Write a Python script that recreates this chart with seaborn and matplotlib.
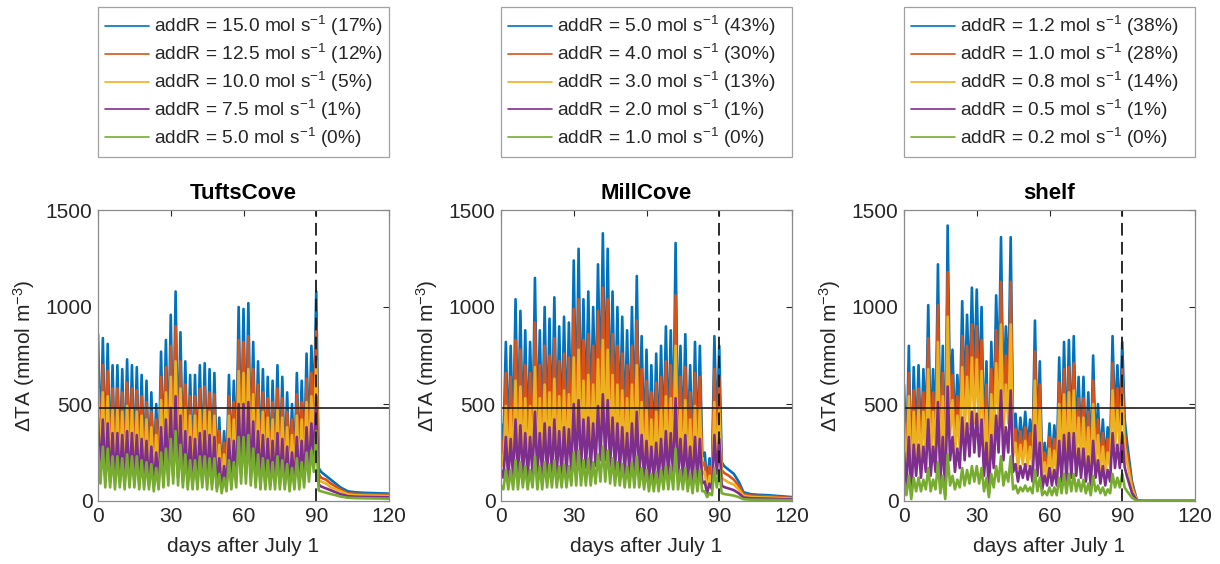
import matplotlib
matplotlib.use("Agg")
import matplotlib.pyplot as plt
import seaborn as sns

# time axis: daily values over the release period, then a few points of the decay
days = list(range(0, 91)) + [91, 92, 94, 96, 98, 100, 103, 106, 110, 115, 120]

# ---- TuftsCove (even days = spike tops, odd days = troughs) ----
tufts_blue = [860, 260, 840, 220, 810, 200, 700, 190, 700, 200, 680, 190, 730, 200, 700, 200, 690, 180, 650, 190, 620, 170, 560, 160, 500, 170, 770, 220, 830, 250, 960, 260, 1080, 240, 870, 210, 720, 180, 650, 170, 650, 180, 700, 200, 710, 190, 680, 180, 660, 140, 430, 120, 360, 150, 650, 180, 620, 220, 1000, 280, 990, 280, 1020, 240, 820, 200, 720, 190, 680, 180, 640, 170, 620, 190, 700, 180, 640, 170, 560, 160, 500, 180, 660, 190, 620, 220, 760, 300, 800, 450, 1080,
              170, 150, 130, 110, 90, 70, 50, 45, 42, 40, 38]
tufts_orange = [710, 220, 700, 180, 670, 170, 580, 160, 580, 170, 560, 160, 610, 170, 580, 170, 570, 150, 540, 160, 510, 140, 460, 130, 420, 140, 640, 180, 690, 210, 800, 220, 900, 200, 720, 170, 600, 150, 540, 140, 540, 150, 580, 170, 590, 160, 560, 150, 550, 120, 360, 100, 300, 120, 540, 150, 510, 180, 830, 230, 820, 230, 850, 200, 680, 170, 600, 160, 560, 150, 530, 140, 510, 160, 580, 150, 530, 140, 460, 130, 420, 150, 550, 160, 510, 180, 630, 250, 660, 370, 900,
                140, 120, 110, 90, 75, 60, 40, 37, 35, 33, 32]
tufts_yellow = [580, 170, 560, 150, 540, 130, 470, 130, 470, 130, 460, 130, 490, 130, 470, 130, 460, 120, 440, 130, 420, 110, 380, 110, 340, 110, 520, 150, 560, 170, 640, 170, 720, 160, 580, 140, 480, 120, 440, 110, 440, 120, 470, 130, 480, 130, 460, 120, 440, 90, 290, 80, 240, 100, 440, 120, 420, 150, 670, 190, 660, 190, 680, 160, 550, 130, 480, 130, 460, 120, 430, 110, 420, 130, 470, 120, 430, 110, 380, 110, 340, 120, 440, 130, 420, 150, 510, 200, 540, 300, 720,
                110, 100, 90, 70, 60, 50, 34, 30, 28, 27, 25]
tufts_purple = [430, 130, 420, 110, 400, 100, 350, 100, 350, 100, 340, 100, 360, 100, 350, 100, 340, 90, 320, 100, 310, 80, 280, 80, 250, 80, 380, 110, 420, 120, 480, 130, 540, 120, 440, 100, 360, 90, 330, 80, 320, 90, 350, 100, 360, 100, 340, 90, 330, 70, 220, 60, 180, 80, 320, 90, 310, 110, 500, 140, 500, 140, 510, 120, 410, 100, 360, 100, 340, 90, 320, 80, 310, 100, 350, 90, 320, 80, 280, 80, 250, 90, 330, 100, 310, 110, 380, 150, 400, 220, 540,
                85, 75, 65, 55, 45, 35, 25, 22, 21, 20, 19]
tufts_green = [280, 90, 280, 70, 270, 70, 230, 60, 230, 70, 220, 60, 240, 70, 230, 70, 230, 60, 210, 60, 200, 60, 190, 50, 170, 60, 250, 70, 270, 80, 320, 90, 360, 80, 290, 70, 240, 60, 210, 60, 210, 60, 230, 70, 230, 60, 220, 60, 220, 50, 140, 40, 120, 50, 210, 60, 200, 70, 330, 90, 330, 90, 340, 80, 270, 70, 240, 60, 220, 60, 210, 60, 200, 60, 230, 60, 210, 60, 190, 50, 170, 60, 220, 60, 200, 70, 250, 100, 260, 150, 360,
               55, 50, 43, 36, 30, 23, 17, 15, 14, 13, 12]

# ---- MillCove ----
mill_blue = [400, 300, 820, 280, 800, 300, 1040, 320, 980, 330, 880, 300, 820, 340, 1150, 320, 880, 320, 1000, 340, 940, 330, 1050, 340, 900, 330, 950, 350, 920, 380, 1240, 400, 1300, 420, 1040, 420, 1080, 400, 1000, 450, 1220, 520, 1380, 520, 1300, 450, 1080, 400, 1000, 380, 950, 360, 880, 330, 1000, 360, 1160, 330, 850, 280, 780, 250, 700, 240, 760, 260, 800, 280, 900, 300, 880, 320, 1330, 300, 800, 280, 860, 260, 700, 220, 820, 250, 800, 230, 250, 100, 220, 150, 850, 350, 800,
             200, 180, 160, 140, 100, 45, 35, 32, 30, 25, 20]
mill_orange = [320, 240, 660, 220, 640, 240, 830, 260, 780, 260, 700, 240, 660, 270, 920, 260, 700, 260, 800, 270, 750, 260, 840, 270, 720, 260, 760, 280, 740, 300, 990, 320, 1040, 340, 830, 340, 860, 320, 800, 360, 980, 420, 1100, 420, 1040, 360, 860, 320, 800, 300, 760, 290, 700, 260, 800, 290, 930, 260, 680, 220, 620, 200, 560, 190, 610, 210, 640, 220, 720, 240, 700, 260, 1060, 240, 640, 220, 690, 210, 560, 180, 660, 200, 640, 180, 200, 80, 180, 120, 680, 280, 640,
               160, 145, 130, 110, 80, 36, 28, 26, 24, 20, 16]
mill_yellow = [240, 180, 490, 170, 480, 180, 620, 190, 590, 200, 530, 180, 490, 200, 690, 190, 530, 190, 600, 200, 560, 200, 630, 200, 540, 200, 570, 210, 550, 230, 740, 240, 780, 250, 620, 250, 650, 240, 600, 270, 730, 310, 830, 310, 780, 270, 650, 240, 600, 230, 570, 220, 530, 200, 600, 220, 700, 200, 510, 170, 470, 150, 420, 140, 460, 160, 480, 170, 540, 180, 530, 190, 800, 180, 480, 170, 520, 160, 420, 130, 490, 150, 480, 140, 150, 60, 130, 90, 510, 210, 480,
               120, 110, 95, 85, 60, 27, 21, 19, 18, 15, 12]
mill_purple = [160, 120, 330, 110, 320, 120, 420, 130, 390, 130, 350, 120, 330, 140, 460, 130, 350, 130, 400, 140, 380, 130, 420, 140, 360, 130, 380, 140, 370, 150, 500, 160, 520, 170, 420, 170, 430, 160, 400, 180, 490, 210, 550, 210, 520, 180, 430, 160, 400, 150, 380, 140, 350, 130, 400, 140, 460, 130, 340, 110, 310, 100, 280, 100, 300, 100, 320, 110, 360, 120, 350, 130, 530, 120, 320, 110, 340, 100, 280, 90, 330, 100, 320, 90, 100, 40, 90, 60, 340, 140, 320,
               80, 72, 64, 56, 40, 18, 14, 13, 12, 10, 8]
mill_green = [80, 60, 160, 60, 160, 60, 210, 60, 200, 70, 180, 60, 160, 70, 230, 60, 180, 60, 200, 70, 190, 70, 210, 70, 180, 70, 190, 70, 180, 80, 250, 80, 260, 80, 210, 80, 220, 80, 200, 90, 240, 100, 280, 100, 260, 90, 220, 80, 200, 80, 190, 70, 180, 70, 200, 70, 230, 70, 170, 60, 160, 50, 140, 50, 150, 50, 160, 60, 180, 60, 180, 60, 270, 60, 160, 60, 170, 50, 140, 40, 160, 50, 160, 50, 50, 20, 40, 30, 170, 70, 160,
              40, 36, 32, 28, 20, 9, 7, 6, 6, 5, 4]

# ---- shelf ----
shelf_blue = [600, 200, 800, 80, 690, 300, 700, 280, 680, 350, 1010, 300, 680, 350, 1220, 250, 800, 80, 1420, 500, 780, 350, 650, 400, 1030, 500, 960, 550, 1100, 600, 1090, 550, 1000, 300, 720, 100, 820, 400, 1060, 600, 1360, 500, 900, 600, 1360, 350, 450, 250, 430, 280, 460, 270, 420, 250, 930, 300, 720, 150, 300, 180, 400, 200, 390, 180, 740, 250, 820, 250, 830, 280, 850, 300, 640, 280, 640, 250, 560, 200, 750, 280, 500, 220, 420, 200, 380, 250, 850, 400, 700, 400, 820,
              420, 300, 100, 5, 0, 0, 0, 0, 0, 0, 0]
shelf_orange = [500, 170, 660, 70, 570, 250, 580, 230, 560, 290, 840, 250, 560, 290, 1010, 210, 660, 70, 1180, 420, 650, 290, 540, 330, 850, 420, 800, 460, 910, 500, 900, 460, 830, 250, 600, 80, 680, 330, 880, 500, 1130, 420, 750, 500, 1130, 290, 370, 210, 360, 230, 380, 220, 350, 210, 770, 250, 600, 120, 250, 150, 330, 170, 320, 150, 610, 210, 680, 210, 690, 230, 710, 250, 530, 230, 530, 210, 460, 170, 620, 230, 420, 180, 350, 170, 320, 210, 710, 330, 580, 330, 680,
                350, 250, 83, 4, 0, 0, 0, 0, 0, 0, 0]
shelf_yellow = [400, 130, 540, 50, 460, 200, 470, 190, 460, 230, 680, 200, 460, 230, 820, 170, 540, 50, 950, 340, 520, 230, 440, 270, 690, 340, 640, 370, 740, 400, 730, 370, 670, 200, 480, 70, 550, 270, 710, 400, 910, 340, 600, 400, 910, 230, 300, 170, 290, 190, 310, 180, 280, 170, 620, 200, 480, 100, 200, 120, 270, 130, 260, 120, 500, 170, 550, 170, 560, 190, 570, 200, 430, 190, 430, 170, 380, 130, 500, 190, 340, 150, 280, 130, 250, 170, 570, 270, 470, 270, 550,
                280, 200, 67, 3, 0, 0, 0, 0, 0, 0, 0]
shelf_purple = [250, 80, 330, 30, 290, 130, 290, 120, 280, 150, 420, 130, 280, 150, 510, 100, 330, 30, 590, 210, 330, 150, 270, 170, 430, 210, 400, 230, 460, 250, 450, 230, 420, 130, 300, 40, 340, 170, 440, 250, 570, 210, 380, 250, 570, 150, 190, 100, 180, 120, 190, 110, 180, 100, 390, 130, 300, 60, 130, 80, 170, 80, 160, 80, 310, 100, 340, 100, 350, 120, 350, 130, 270, 120, 270, 100, 230, 80, 310, 120, 210, 90, 180, 80, 160, 100, 350, 170, 290, 170, 340,
                175, 125, 42, 2, 0, 0, 0, 0, 0, 0, 0]
shelf_green = [100, 30, 130, 10, 120, 50, 120, 50, 110, 60, 170, 50, 110, 60, 200, 40, 130, 10, 240, 80, 130, 60, 110, 70, 170, 80, 160, 90, 180, 100, 180, 90, 170, 50, 120, 20, 140, 70, 180, 100, 230, 80, 150, 100, 230, 60, 80, 40, 70, 50, 80, 50, 70, 40, 160, 50, 120, 30, 50, 30, 70, 30, 70, 30, 120, 40, 140, 40, 140, 50, 140, 50, 110, 50, 110, 40, 90, 30, 130, 50, 80, 40, 70, 30, 60, 40, 140, 70, 120, 70, 140,
               70, 50, 17, 1, 0, 0, 0, 0, 0, 0, 0]

# legend text
tufts_rates = ["15.0", "12.5", "10.0", "7.5", "5.0"]
tufts_pct = ["17%", "12%", "5%", "1%", "0%"]
mill_rates = ["5.0", "4.0", "3.0", "2.0", "1.0"]
mill_pct = ["43%", "30%", "13%", "1%", "0%"]
shelf_rates = ["1.2", "1.0", "0.8", "0.5", "0.2"]
shelf_pct = ["38%", "28%", "14%", "1%", "0%"]

threshold = 480
release_end = 90

# MATLAB default line colours
colors = ["#0072BD", "#D95319", "#EDB120", "#7E2F8E", "#77AC30"]

panels = [
    ("TuftsCove", [tufts_blue, tufts_orange, tufts_yellow, tufts_purple, tufts_green], tufts_rates, tufts_pct),
    ("MillCove", [mill_blue, mill_orange, mill_yellow, mill_purple, mill_green], mill_rates, mill_pct),
    ("shelf", [shelf_blue, shelf_orange, shelf_yellow, shelf_purple, shelf_green], shelf_rates, shelf_pct),
]

sns.set_theme(style="white")
plt.rcParams["font.family"] = ["Liberation Sans", "DejaVu Sans"]
plt.rcParams["mathtext.fontset"] = "custom"
plt.rcParams["mathtext.rm"] = "Liberation Sans"
plt.rcParams["mathtext.it"] = "Liberation Sans:italic"
plt.rcParams["mathtext.bf"] = "Liberation Sans:bold"

W, H = 1220, 564
fig = plt.figure(figsize=(W / 100, H / 100), dpi=100)
lefts = [98, 501, 904]
ax_w, ax_h = 291, 291
ax_top = 210
txt = "#262626"

for left, (name, series, rates, pct) in zip(lefts, panels):
    ax = fig.add_axes([left / W, (H - ax_top - ax_h) / H, ax_w / W, ax_h / H])
    for vals, col, r, p in zip(series, colors, rates, pct):
        n = min(len(vals), len(days))
        sns.lineplot(x=days[:n], y=vals[:n], color=col, lw=1.9, ax=ax,
                     label=f"addR = {r} mol s$^{{\\mathregular{{-1}}}}$ ({p})")
    ax.axhline(threshold, color="k", lw=1.2)
    ax.axvline(release_end, color="k", lw=1.3, ls=(0, (7, 3.5)))
    ax.set_xlim(0, 120)
    ax.set_ylim(0, 1500)
    ax.set_xticks([0, 30, 60, 90, 120])
    ax.set_yticks([0, 500, 1000, 1500])
    ax.tick_params(direction="in", top=True, right=True, length=4, width=0.8,
                   labelsize=15, colors=txt, pad=4)
    for sp in ax.spines.values():
        sp.set_color("#8a8a8a")
        sp.set_linewidth(0.9)
    ax.set_title(name, fontsize=16, fontweight="bold", color="black", pad=8)
    ax.set_xlabel("days after July 1", fontsize=15, color=txt, labelpad=8)
    ax.set_ylabel("ΔTA (mmol m$^{\\mathregular{-3}}$)", fontsize=15, color=txt, labelpad=6)
    leg = ax.legend(loc="upper left", bbox_to_anchor=(0, 1 + (ax_top - 7) / ax_h, 1, 0),
                    mode="expand", fontsize=13.8, frameon=True, fancybox=False,
                    handlelength=2.3, handletextpad=0.25, labelspacing=0.2,
                    borderpad=0.38, borderaxespad=0)
    leg.get_frame().set_edgecolor("#8a8a8a")
    leg.get_frame().set_linewidth(0.9)
    for t in leg.get_texts():
        t.set_color(txt)
    for h in leg.get_lines():
        h.set_linewidth(1.2)

fig.savefig("out.png", dpi=100)
